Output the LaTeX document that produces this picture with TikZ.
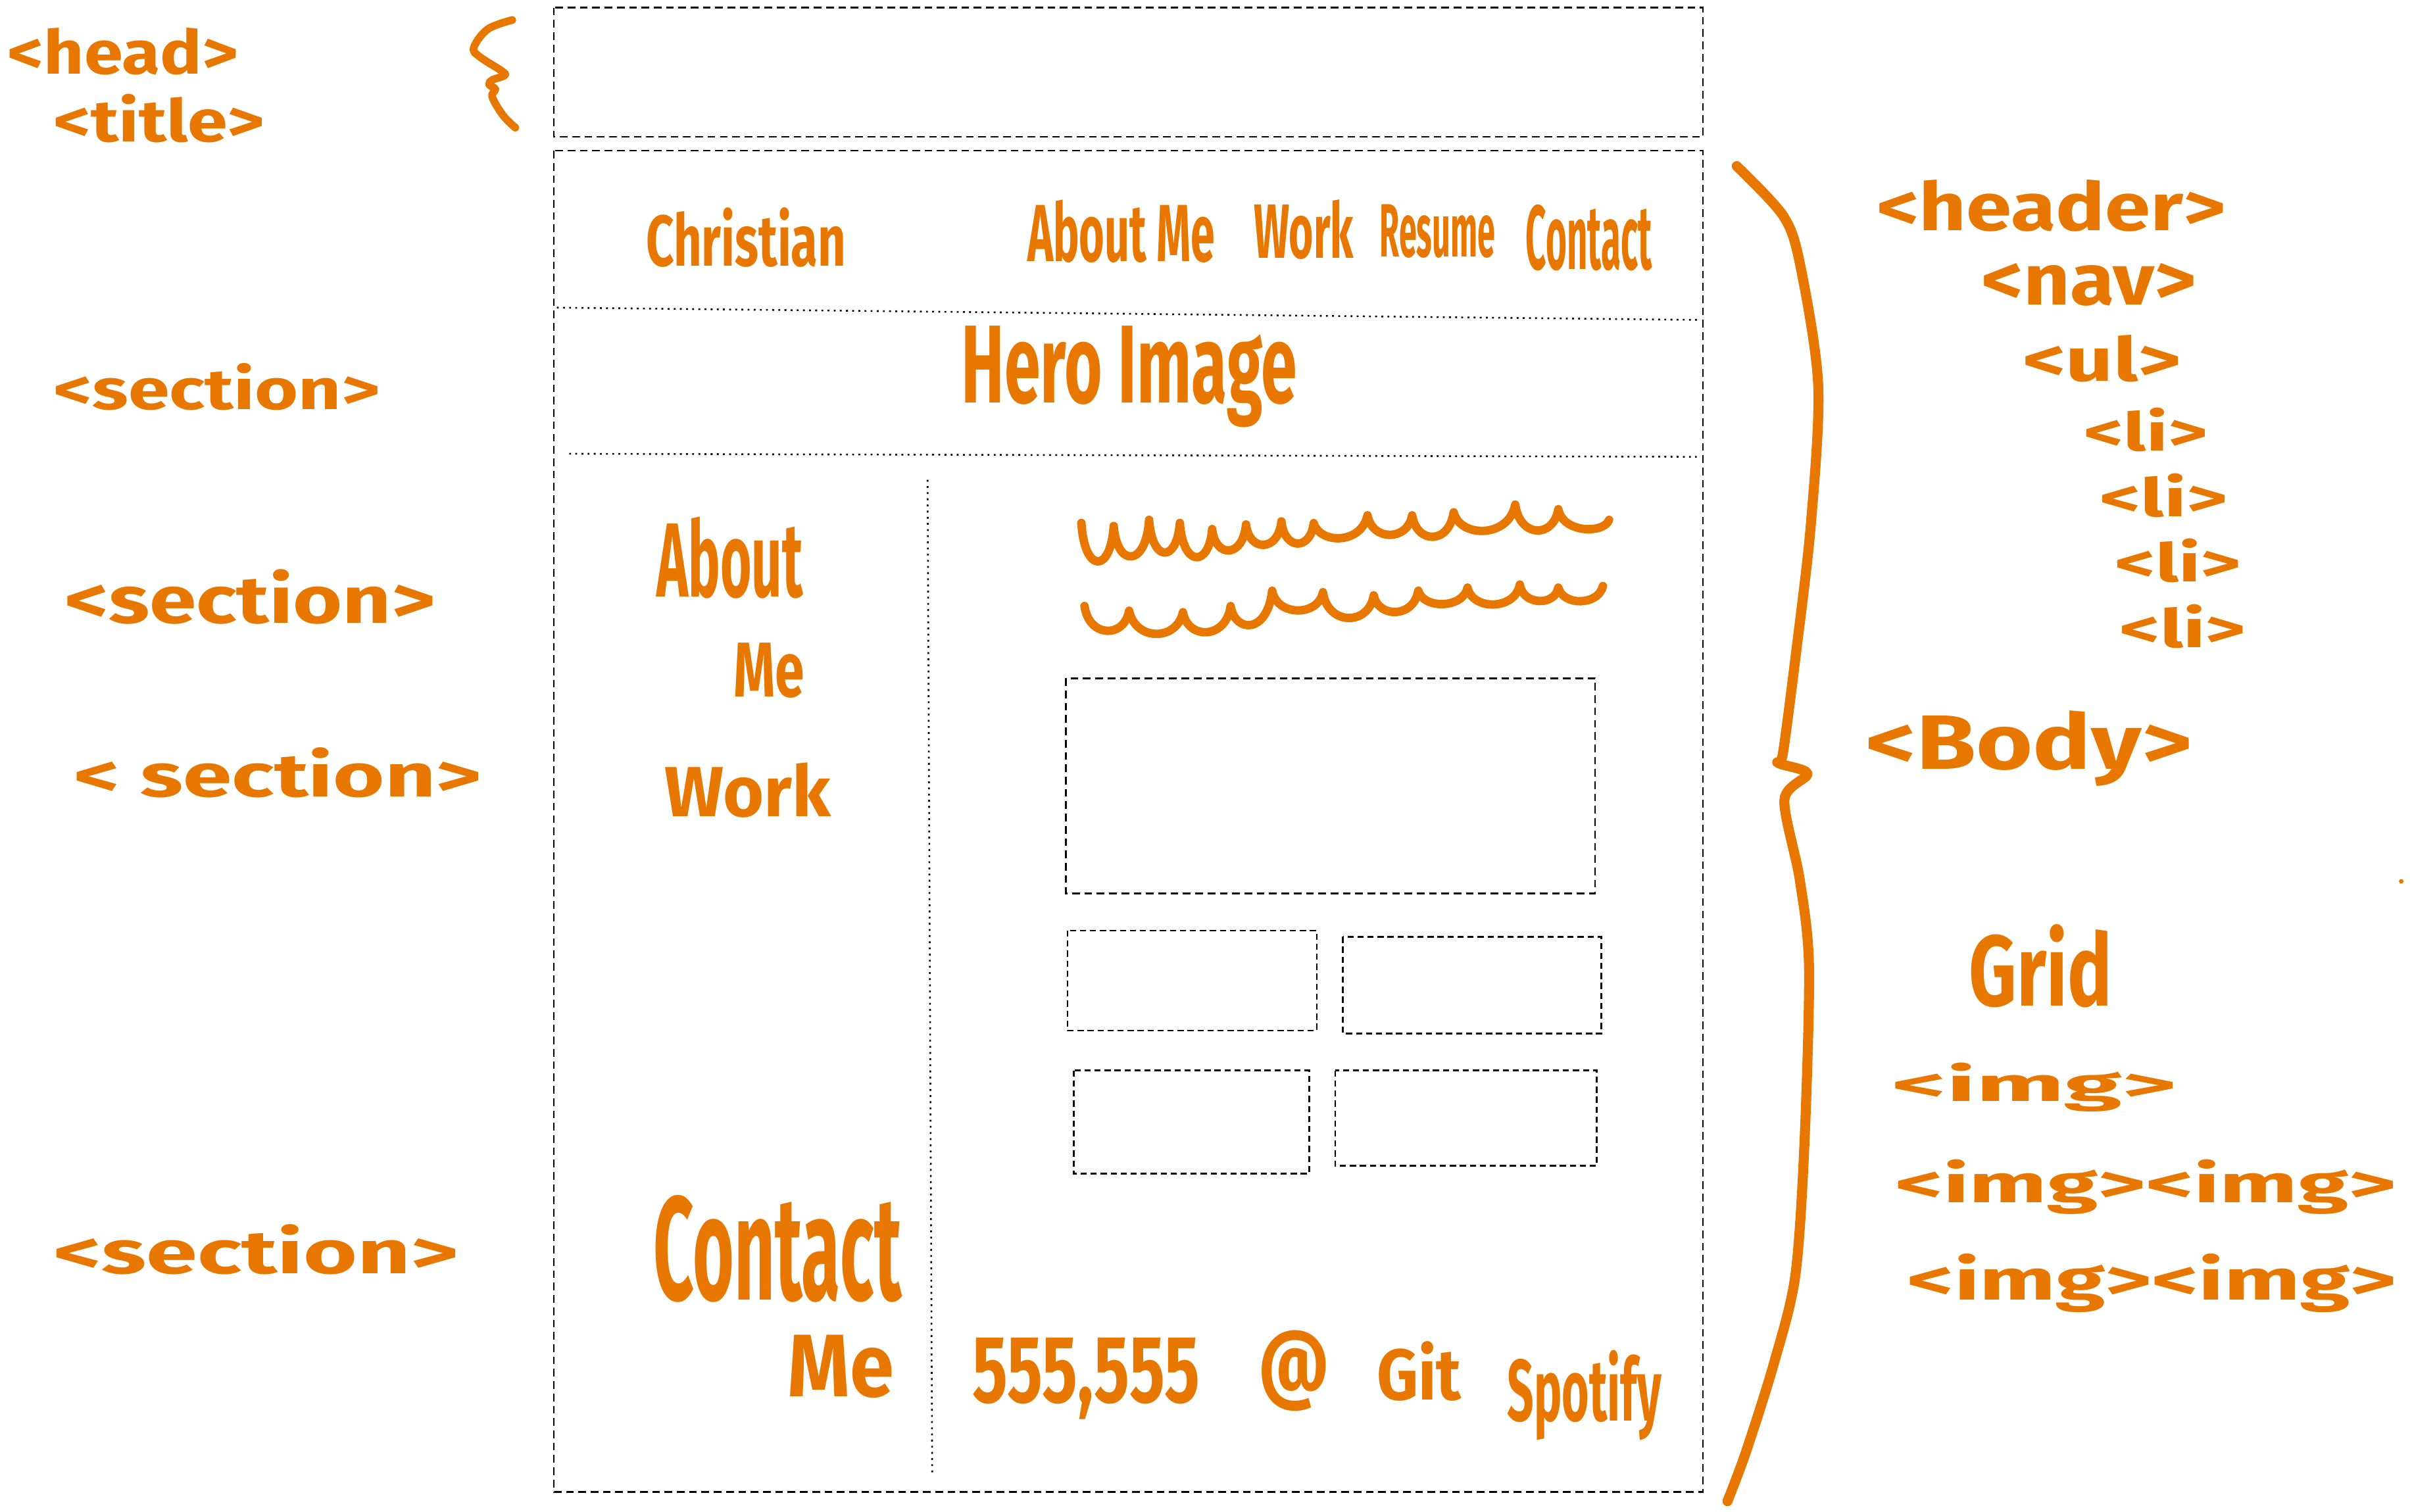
\documentclass[tikz,border=0pt]{standalone}
\usepackage{fontspec}
\setmainfont{Fira Sans}
\usepackage{graphicx}
\definecolor{ink}{RGB}{232,119,0}
\newcommand\hw[3]{\resizebox{#1pt}{#2pt}{#3}}
\begin{document}
\begin{tikzpicture}[x=1pt,y=-1pt,
  lbl/.style={anchor=base west, inner sep=0pt, outer sep=0pt, text=ink, font=\bfseries},
  box/.style={draw=black, line width=1.1pt, dash pattern=on 5pt off 3pt},
  sbox/.style={draw=black, line width=1.1pt, dash pattern=on 4pt off 2.5pt},
  divider/.style={draw=black, line width=1.1pt, dash pattern=on 1.2pt off 2.8pt},
  stroke/.style={draw=ink, line width=5pt, line cap=round, line join=round},
]
\useasboundingbox (0,0) rectangle (1568,983);

% ---- wireframe boxes
\draw[box] (360,5) rectangle (1107,89);
\draw[box] (360,98) rectangle (1107,970);
\draw[divider] (362,200) -- (1105,208);
\draw[divider] (370,295) -- (1103,297);
\draw[divider] (603,312) -- (606,958);
\draw[box] (693,441) rectangle (1037,581);
\draw[sbox] (694,605) rectangle (856,670);
\draw[sbox] (873,609) rectangle (1041,672);
\draw[sbox] (698,696) rectangle (851,763);
\draw[sbox] (868,696) rectangle (1038,758);

% ---- left labels
\node[lbl] (head)  at (5,48)   {\hw{150}{30}{<head>}};
\node[lbl] (title) at (35,92)  {\hw{137}{31}{<title>}};
\node[lbl] (sec1)  at (35,266) {\hw{212}{30}{<section>}};
\node[lbl] (sec2)  at (42,405) {\hw{241}{35}{<section>}};
\node[lbl] (sec3)  at (48,518) {\hw{265}{32}{< section>}};
\node[lbl] (sec4)  at (35,828) {\hw{263}{32}{<section>}};

% ---- header brace
\draw[stroke, line width=5pt] plot[smooth, tension=0.6] coordinates {
  (333,13) (317,19) (308,31) (312,37) (326,46) (328,49) (320,52) (318,55) (322,58) (320,63) (327,75) (335,83)};

% ---- page content
\node[lbl] (christian) at (420,173) {\hw{130}{38}{Christian}};
\node[lbl] (navabout)  at (668,170) {\hw{122}{40}{About Me}};
\node[lbl] (navwork)   at (815,168) {\hw{65}{38}{Work}};
\node[lbl] (navresume) at (897,167) {\hw{75}{34}{Resume}};
\node[lbl] (navcontact) at (992,175) {\hw{82}{42}{Contact}};
\node[lbl] (hero) at (625,262) {\hw{218}{50}{Hero Image}};
\node[lbl] (about) at (427,388) {\hw{95}{52}{About}};
\node[lbl] (aboutme) at (477,453) {\hw{46}{35}{Me}};
\node[lbl] (work) at (432,531) {\hw{108}{35}{Work}};
\node[lbl] (contact) at (425,845) {\hw{161}{68}{Contact}};
\node[lbl] (contactme) at (512,908) {\hw{69}{40}{Me}};
\node[lbl] (phone) at (632,912) {\hw{148}{42}{555,555}};
\node[lbl] (at) at (818,905) {\hw{46}{40}{@}};
\node[lbl] (git) at (895,910) {\hw{55}{38}{Git}};
\node[lbl] (spotify) at (980,924) {\hw{100}{46}{Spotify}};

% ---- scribbled text lines
\draw[stroke, line width=5.5pt]
  (703,340) .. controls (705,373) and (722,373) .. (724,342)
  .. controls (726,369) and (745,369) .. (747,338)
  .. controls (749,366) and (765,366) .. (767,340)
  .. controls (769,369) and (786,369) .. (788,344)
  .. controls (790,363) and (808,363) .. (810,341)
  .. controls (812,359) and (831,359) .. (833,339)
  .. controls (835,358) and (852,358) .. (854,340)
  .. controls (858,354) and (885,354) .. (889,335)
  .. controls (892,352) and (915,352) .. (918,335)
  .. controls (921,354) and (942,354) .. (945,333)
  .. controls (949,350) and (981,350) .. (985,328)
  .. controls (988,350) and (1010,350) .. (1013,331)
  .. controls (1016,347) and (1043,347) .. (1046,338);
\draw[stroke, line width=5.5pt]
  (705,394) .. controls (708,415) and (731,415) .. (734,397)
  .. controls (738,417) and (765,417) .. (769,398)
  .. controls (772,416) and (797,416) .. (800,394)
  .. controls (803,412) and (824,412) .. (827,384)
  .. controls (830,401) and (857,401) .. (860,385)
  .. controls (863,407) and (890,407) .. (893,387)
  .. controls (896,402) and (919,402) .. (922,384)
  .. controls (925,396) and (951,396) .. (954,382)
  .. controls (957,397) and (985,397) .. (988,380)
  .. controls (990,394) and (1011,394) .. (1013,382)
  .. controls (1016,394) and (1039,394) .. (1042,381);

% ---- body brace
\draw[stroke, line width=6.5pt] plot[smooth, tension=0.5] coordinates {
  (1129,108) (1159,140) (1170,171) (1182,251) (1177,343) (1167,429) (1159,490) (1156,496)
  (1175,503) (1160,520) (1170,572) (1176,629) (1173,744) (1167,830) (1153,887) (1135,944) (1123,976)};

% ---- right labels
\node[lbl] (header) at (1220,150) {\hw{227}{33}{<header>}};
\node[lbl] (nav)    at (1288,198) {\hw{140}{27}{<nav>}};
\node[lbl] (ul)     at (1315,248) {\hw{103}{30}{<ul>}};
\node[lbl] (li1)    at (1355,293) {\hw{80}{28}{<li>}};
\node[lbl] (li2)    at (1365,336) {\hw{83}{28}{<li>}};
\node[lbl] (li3)    at (1375,378) {\hw{82}{28}{<li>}};
\node[lbl] (li4)    at (1378,421) {\hw{82}{28}{<li>}};
\node[lbl] (body)   at (1213,500) {\hw{212}{38}{<Body>}};
\node[lbl] (grid)   at (1280,654) {\hw{93}{53}{Grid}};
\node[lbl] (img1)   at (1230,716) {\hw{185}{25}{<img>}};
\node[lbl] (img2)   at (1232,782) {\hw{326}{28}{<img><img>}};
\node[lbl] (img3)   at (1240,845) {\hw{318}{30}{<img><img>}};
\fill[ink] (1561,573) circle (1.5);
\end{tikzpicture}
\end{document}
